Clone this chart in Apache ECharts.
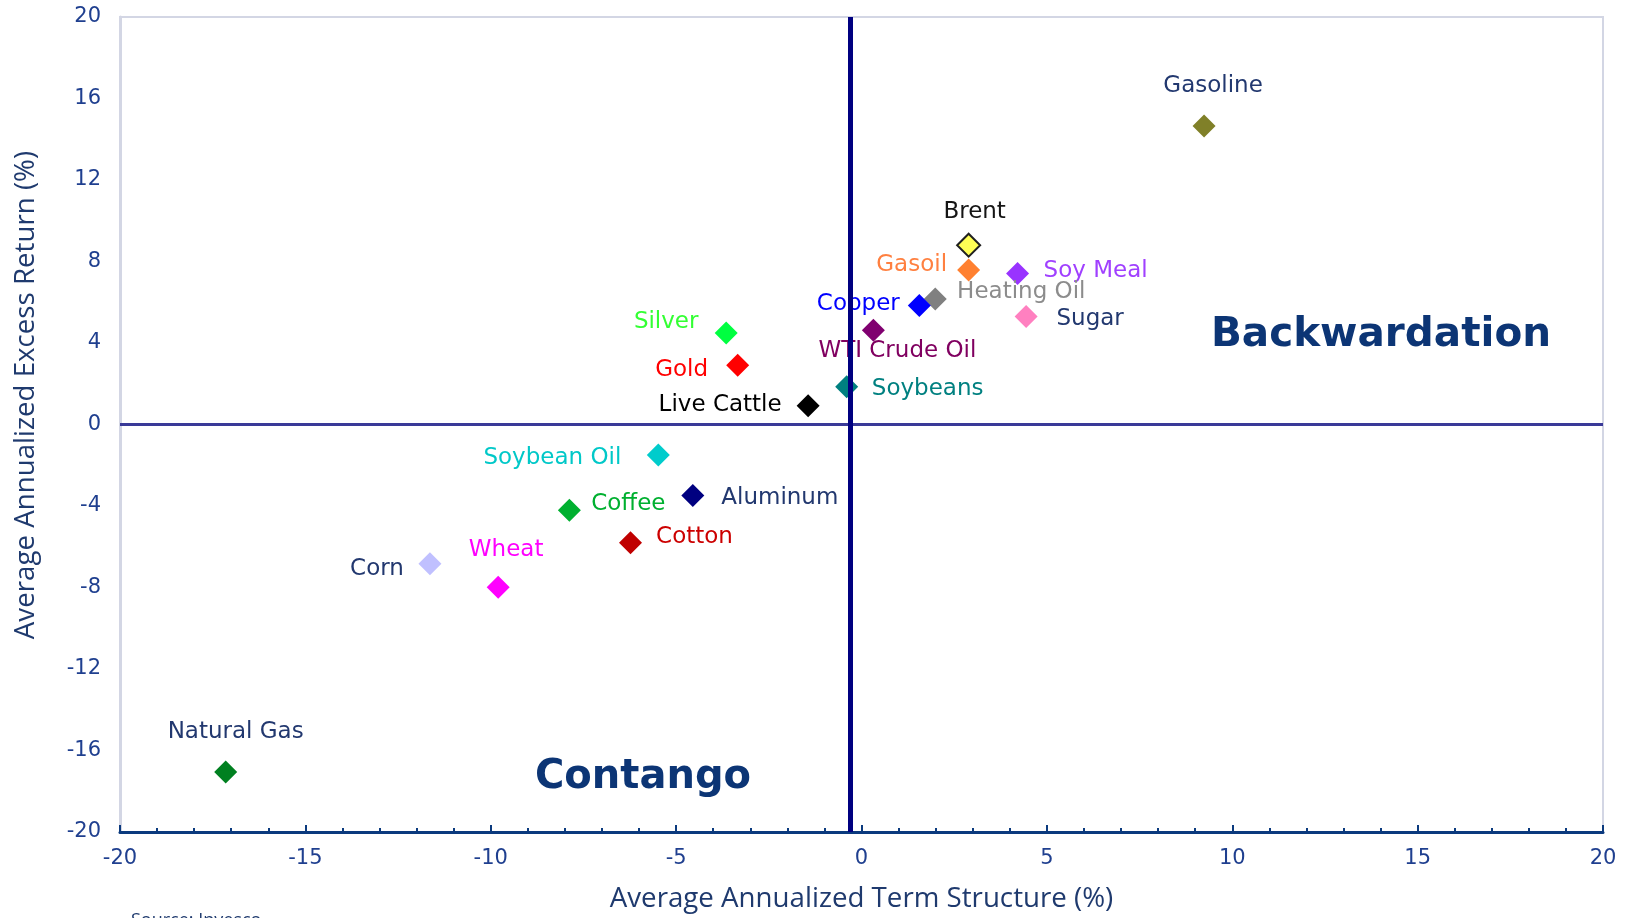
<!DOCTYPE html>
<html>
<head>
<meta charset="utf-8">
<script src="https://cdn.jsdelivr.net/npm/echarts@6/dist/echarts.min.js"></script>
<style>
  html, body { margin: 0; padding: 0; background: #ffffff; overflow: hidden; }
  #chart { width: 1625px; height: 918px; }
</style>
</head>
<body>
<div id="chart"></div>
<script>
// Commodities: average annualized term structure vs. average annualized excess return (%)
const commodities = ['Gasoline', 'Brent', 'Gasoil', 'Soy Meal', 'Heating Oil', 'Copper', 'Sugar',
  'WTI Crude Oil', 'Soybeans', 'Live Cattle', 'Silver', 'Gold', 'Soybean Oil', 'Aluminum',
  'Coffee', 'Cotton', 'Wheat', 'Corn', 'Natural Gas'];
const termStructure = [9.24, 2.89, 2.89, 4.21, 1.99, 1.56, 4.44,
  0.32, -0.40, -1.44, -3.65, -3.34, -5.48, -4.55,
  -7.88, -6.23, -9.80, -11.64, -17.15];
const excessReturn = [14.65, 8.80, 7.58, 7.41, 6.16, 5.84, 5.30,
  4.62, 1.85, 0.92, 4.49, 2.91, -1.50, -3.48,
  -4.21, -5.80, -7.99, -6.84, -17.06];

// Quadrant divider positions
const dividerX = -0.3;
const dividerY = 0;

// Axis ranges / ticks
const xMin = -20, xMax = 20, xStep = 5;
const yMin = -20, yMax = 20, yStep = 4;

// Marker / label styling per commodity (label offset relative to marker centre)
const NAVY = '#22386f';
const styles = {
  'Gasoline':     { fill: '#808028', text: NAVY,      off: [9, -40] },
  'Brent':        { fill: '#ffff55', text: '#151515', off: [6, -33], border: '#202020' },
  'Gasoil':       { fill: '#ff8030', text: '#ff8040', off: [-57, -5] },
  'Soy Meal':     { fill: '#9933ff', text: '#a040ff', off: [78, -2] },
  'Heating Oil':  { fill: '#808080', text: '#8c8c8c', off: [86, -7] },
  'Copper':       { fill: '#0000ff', text: '#0000ff', off: [-61, -1] },
  'Sugar':        { fill: '#ff80c0', text: NAVY,      off: [64, 3] },
  'WTI Crude Oil':{ fill: '#800070', text: '#800060', off: [24, 21] },
  'Soybeans':     { fill: '#008080', text: '#008080', off: [81, 2] },
  'Live Cattle':  { fill: '#000000', text: '#000000', off: [-88, -1] },
  'Silver':       { fill: '#00ff40', text: '#33ff33', off: [-60, -11] },
  'Gold':         { fill: '#ff0000', text: '#ff0000', off: [-56, 5] },
  'Soybean Oil':  { fill: '#00cccc', text: '#00c8c8', off: [-106, 3] },
  'Aluminum':     { fill: '#000080', text: NAVY,      off: [87, 3] },
  'Coffee':       { fill: '#00b030', text: '#00b030', off: [59, -6] },
  'Cotton':       { fill: '#c00000', text: '#cc0000', off: [64, -6] },
  'Wheat':        { fill: '#ff00ff', text: '#ff00ff', off: [8, -37] },
  'Corn':         { fill: '#c0c0ff', text: NAVY,      off: [-53, 5] },
  'Natural Gas':  { fill: '#008020', text: NAVY,      off: [10, -40] }
};

const points = commodities.map((name, i) => {
  const s = styles[name];
  return {
    name: name,
    value: [termStructure[i], excessReturn[i]],
    itemStyle: {
      color: s.fill,
      opacity: 1,
      borderColor: s.border || s.fill,
      borderWidth: s.border ? 2 : 0
    },
    label: { color: s.text, offset: s.off, opacity: 1 }
  };
});

const AXIS_BLUE = '#0b3a7e';
const TICK_TEXT = '#1f3f8f';
const BORDER = '#d3d6e4';
const TITLE_FONT = 27.7;

const chart = echarts.init(document.getElementById('chart'), null, { renderer: 'canvas' });

chart.setOption({
  backgroundColor: '#ffffff',
  animation: false,
  grid: {
    left: 120, right: 22, top: 17, bottom: 81,
    show: true, borderColor: BORDER, borderWidth: 2, backgroundColor: '#ffffff'
  },
  xAxis: {
    type: 'value', min: xMin, max: xMax, interval: xStep,
    name: 'Average Annualized Term Structure (%)',
    nameLocation: 'middle', nameGap: 53,
    nameTextStyle: { fontFamily: 'Open Sans', fontSize: TITLE_FONT, color: '#1f3a6e' },
    axisLine: { show: true, onZero: false, lineStyle: { color: AXIS_BLUE, width: 3 } },
    axisTick: { show: true, inside: true, length: 7, lineStyle: { color: AXIS_BLUE, width: 2 } },
    minorTick: { show: true, splitNumber: 5, length: 4, lineStyle: { color: AXIS_BLUE, width: 2 } },
    splitLine: { show: false },
    axisLabel: { fontFamily: 'DejaVu Sans', fontSize: 21, color: TICK_TEXT, margin: 16 }
  },
  yAxis: {
    type: 'value', min: yMin, max: yMax, interval: yStep,
    axisLine: { show: true, onZero: false, lineStyle: { color: BORDER, width: 3 } },
    axisTick: { show: false },
    splitLine: { show: false },
    axisLabel: { fontFamily: 'DejaVu Sans', fontSize: 21, color: TICK_TEXT, margin: 19 }
  },
  graphic: [
    {
      type: 'text', x: 26, y: 395, rotation: Math.PI / 2,
      style: {
        text: 'Average Annualized Excess Return (%)',
        font: TITLE_FONT + 'px "Open Sans"', fill: '#1f3a6e',
        textAlign: 'center', textVerticalAlign: 'middle'
      }
    },
    {
      type: 'text', x: 1381, y: 335, z: 10,
      style: {
        text: 'Backwardation', font: 'bold 40.5px "DejaVu Sans"', fill: '#0c3575',
        textAlign: 'center', textVerticalAlign: 'middle'
      }
    },
    {
      type: 'text', x: 643, y: 778, z: 10,
      style: {
        text: 'Contango', font: 'bold 40px "DejaVu Sans"', fill: '#0c3575',
        textAlign: 'center', textVerticalAlign: 'middle'
      }
    },
    {
      type: 'text', x: 131, y: 912,
      style: {
        text: 'Source: Invesco', font: '18px "Open Sans"', fill: '#1f3a6e',
        textAlign: 'left', textVerticalAlign: 'top'
      }
    }
  ],
  series: [
    {
      type: 'scatter',
      z: 2,
      symbol: 'diamond',
      symbolSize: 23,
      data: points,
      label: {
        show: true,
        position: 'inside',
        align: 'center',
        verticalAlign: 'middle',
        formatter: '{b}',
        fontFamily: 'DejaVu Sans',
        fontSize: 23
      },
      emphasis: { disabled: true }
    },
    {
      type: 'scatter',
      z: 5,
      data: [],
      markLine: {
        silent: true,
        symbol: 'none',
        label: { show: false },
        animation: false,
        data: [
          { yAxis: dividerY, lineStyle: { color: '#3a3a98', width: 3, type: 'solid', opacity: 1 } },
          { xAxis: dividerX, lineStyle: { color: '#000080', width: 5, type: 'solid', opacity: 1 } }
        ]
      }
    }
  ]
});
</script>
</body>
</html>
